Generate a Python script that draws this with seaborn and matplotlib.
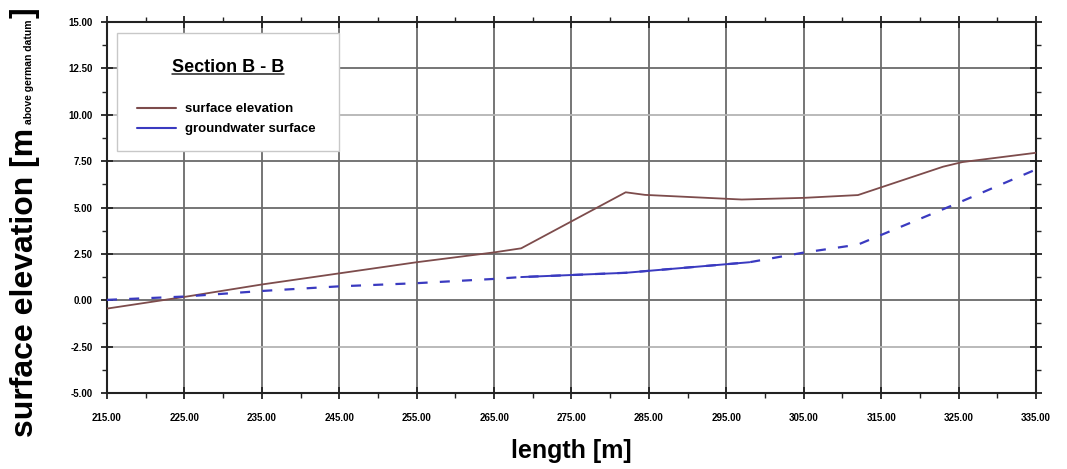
import numpy as np
import pandas as pd
import matplotlib
matplotlib.use("Agg")
import matplotlib.pyplot as plt
import seaborn as sns
from matplotlib.lines import Line2D
from matplotlib.patches import Rectangle
from matplotlib.ticker import MultipleLocator, FormatStrFormatter

# Section B - B profile
surf_x = [215, 225, 235, 245, 255, 265, 268.5, 282, 284.5, 297, 305, 312, 323, 325.5, 335]
surf_y = [-0.45, 0.18, 0.85, 1.45, 2.05, 2.58, 2.8, 5.82, 5.68, 5.43, 5.52, 5.67, 7.2, 7.45, 7.95]

gw_x = [215, 225, 235, 245, 255, 265, 268.5, 282, 298, 305, 312, 324, 335]
gw_y = [0.02, 0.2, 0.5, 0.75, 0.92, 1.15, 1.25, 1.48, 2.05, 2.57, 3.0, 5.08, 7.05]
gw_measured = slice(6, 9)  # solid part of the groundwater line

x_ticks = np.arange(215, 336, 10)
y_ticks = np.arange(-5, 15.1, 2.5)

surf_color = "#7d4c4c"
gw_color = "#3a3ac0"
grid_color = "#6a6a6a"

sns.set_style("ticks")
plt.rcParams["font.family"] = ["Liberation Sans", "DejaVu Sans"]
plt.rcParams["axes.unicode_minus"] = False
plt.rcParams["text.color"] = "black"
plt.rcParams["xtick.labelcolor"] = "black"
plt.rcParams["ytick.labelcolor"] = "black"

W, H = 1067, 469
fig = plt.figure(figsize=(W / 100, H / 100), dpi=100)
ax = fig.add_axes([107 / W, 1 - 393 / H, 929 / W, 371 / H])

surf = pd.DataFrame({"length": surf_x, "elev": surf_y})
gw = pd.DataFrame({"length": gw_x, "elev": gw_y})

sns.lineplot(data=surf, x="length", y="elev", sort=False, estimator=None,
             color=surf_color, lw=1.3, ax=ax, zorder=4)
sns.lineplot(data=gw, x="length", y="elev", sort=False, estimator=None,
             color=gw_color, lw=1.6, linestyle=(0, (4.5, 5.5)), ax=ax, zorder=4)
sns.lineplot(data=gw.iloc[gw_measured], x="length", y="elev", sort=False, estimator=None,
             color=gw_color, lw=1.4, ax=ax, zorder=4)

ax.set_xlim(215, 335)
ax.set_ylim(-5, 15)
ax.set_xticks(x_ticks)
ax.set_yticks(y_ticks)
ax.xaxis.set_minor_locator(MultipleLocator(5))
ax.yaxis.set_minor_locator(MultipleLocator(1.25))
ax.xaxis.set_major_formatter(FormatStrFormatter("%.2f"))
ax.yaxis.set_major_formatter(FormatStrFormatter("%.2f"))

ax.grid(True, which="major", color=grid_color, lw=1.3, zorder=1)
for gl, v in zip(ax.get_ygridlines(), y_ticks):
    if v in (10.0, -2.5):
        gl.set_color("#b4b4b4")

for s in ax.spines.values():
    s.set_color("#222222")
    s.set_linewidth(1.5)

ax.tick_params(which="major", direction="inout", length=9, width=1.3, color="#222222",
               top=True, right=True, labelsize=7)
ax.tick_params(which="minor", direction="out", length=3.5, width=1.0, color="#222222",
               top=True, right=True)
ax.tick_params(axis="x", pad=10)
ax.tick_params(axis="y", pad=6)
for lab in ax.get_xticklabels() + ax.get_yticklabels():
    lab.set_fontweight("bold")

ax.set_xlabel("")
ax.set_ylabel("")
fig.text(571 / W, 1 - 451 / H, "length [m]", ha="center", va="center",
         fontsize=18, fontweight="bold")

# y label: big text, small "above german datum", closing bracket
yl = fig.text(33 / W, 1 - 437 / H, "surface elevation [m", rotation=90,
              rotation_mode="anchor", ha="left", va="baseline",
              fontsize=23, fontweight="bold")
fig.canvas.draw()
r = fig.canvas.get_renderer()
bb = yl.get_window_extent(r)
sub = fig.text(32 / W, (bb.y1 + 4) / H, "above german datum", rotation=90,
               rotation_mode="anchor", ha="left", va="baseline", fontsize=7.5, fontweight="bold")
bb2 = sub.get_window_extent(r)
fig.text(33 / W, (bb2.y1 + 1) / H, "]", rotation=90, rotation_mode="anchor",
         ha="left", va="baseline", fontsize=23, fontweight="bold")

# legend box with underlined title
box = Rectangle((117 / W, 1 - 151 / H), 222 / W, 118 / H, transform=fig.transFigure,
                facecolor="white", edgecolor="#c8c8c8", lw=1.0, zorder=5, clip_on=False)
ax.add_patch(box)
title = ax.text(228 / W, 1 - 68 / H, "Section B - B", ha="center", va="center",
                transform=fig.transFigure, fontsize=13, fontweight="bold", zorder=6)
fig.canvas.draw()
tb = title.get_window_extent(fig.canvas.get_renderer())
ax.add_line(Line2D([tb.x0 / W, tb.x1 / W], [(tb.y0 + 2) / H, (tb.y0 + 2) / H],
                   transform=fig.transFigure, color="#222222", lw=1.1, zorder=6,
                   clip_on=False))

handles = [Line2D([], [], color=surf_color, lw=1.5),
           Line2D([], [], color=gw_color, lw=1.5)]
leg = ax.legend(handles, ["surface elevation", "groundwater surface"],
                loc="upper left", bbox_to_anchor=(137 / W, 1 - 103 / H),
                bbox_transform=fig.transFigure, frameon=False, borderaxespad=0,
                borderpad=0, handlelength=2.95, handletextpad=0.7, labelspacing=0.6,
                prop={"weight": "bold", "size": 9.5})
leg.set_zorder(7)

fig.savefig("out.png", dpi=100)
